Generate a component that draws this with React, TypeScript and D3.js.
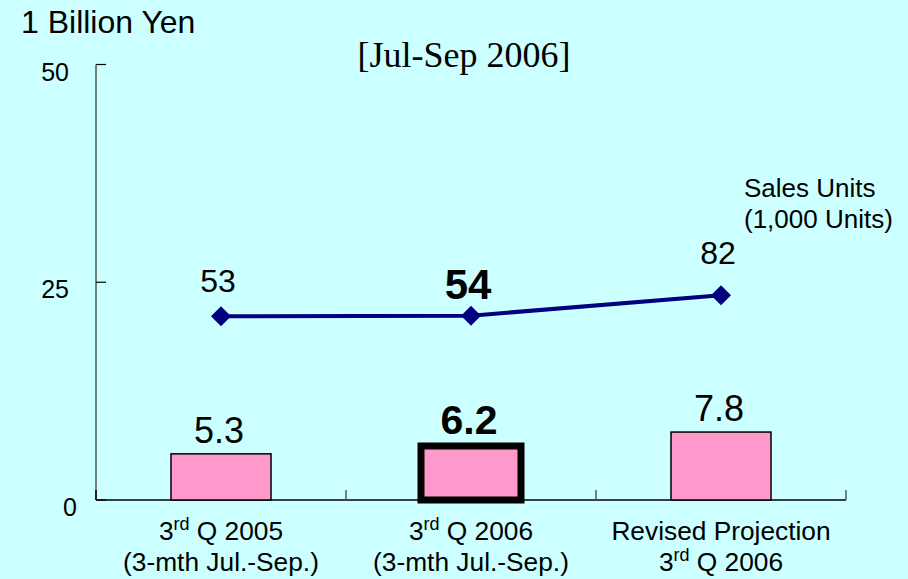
import React from "react";
import * as d3 from "d3";

// ---- Data ----
const categories = ["3rd Q 2005", "3rd Q 2006", "Revised Projection"];
const categorySub = ["(3-mth Jul.-Sep.)", "(3-mth Jul.-Sep.)", "3rd Q 2006"];
const salesAmount = [5.3, 6.2, 7.8]; // 1 Billion Yen
const salesUnits = [53, 54, 82]; // 1,000 Units
const highlightIndex = 1;
const yTicks = [0, 25, 50];
const title = "[Jul-Sep 2006]";
const yAxisTitle = "1 Billion Yen";
const lineLegend = ["Sales Units", "(1,000 Units)"];

const W = 908;
const H = 579;
const FONT = "'Liberation Sans', Arial, sans-serif";

function renderWithSup(text: string, supSize: number) {
  const m = text.match(/^(\d)(st|nd|rd|th)(.*)$/);
  if (!m) return text;
  return (
    <>
      {m[1]}
      <tspan fontSize={supSize} dy={-10}>{m[2]}</tspan>
      <tspan dy={10}>{m[3]}</tspan>
    </>
  );
}

export default function App() {
  const left = 96;
  const right = 846;
  const bottom = 500;
  const top = 64.5;

  const x = d3.scaleBand<string>().domain(categories).range([left, right]).paddingInner(0).paddingOuter(0);
  const y = d3.scaleLinear().domain([0, 50]).range([bottom, top]);
  const y2 = d3.scaleLinear().domain([-200, 400]).range([bottom, top]);

  const bw = x.bandwidth();
  const barW = bw * 0.4;
  const cx = (i: number) => (x(categories[i]) as number) + bw / 2;

  const linePts: [number, number][] = salesUnits.map((v, i) => [cx(i), y2(v)]);
  const lineGen = d3.line();
  const unitLabelDy = [-24, -17, -31];

  const diamond = d3.symbol().type(d3.symbolSquare).size(200)();

  const boundaries = d3.range(categories.length + 1).map((i) => left + i * bw);

  return (
    <svg
      width={W}
      height={H}
      style={{ position: "absolute", left: 0, top: 0, display: "block" }}
      fontFamily={FONT}
    >
      <rect x={0} y={0} width={W} height={H} fill="#CCFFFF" />

      {/* titles */}
      <text x={21} y={33} fontSize={32} fill="#000">{yAxisTitle}</text>
      <text x={464} y={67} fontSize={36} fontFamily="'Liberation Serif', 'Times New Roman', serif" textAnchor="middle" fill="#000">
        {title}
      </text>

      {/* y axis */}
      <line x1={left} y1={top} x2={left} y2={bottom} stroke="#555" strokeWidth={1.5} />
      {yTicks.map((t) => (
        <g key={t}>
          <line x1={left} x2={left + 10} y1={y(t)} y2={y(t)} stroke="#000" strokeWidth={1.2} />
          <text x={t === 0 ? 77 : 69} y={y(t) + 16} fontSize={25} textAnchor="end" fill="#000">
            {t}
          </text>
        </g>
      ))}

      {/* x axis */}
      <line x1={left} y1={bottom} x2={right} y2={bottom} stroke="#000" strokeWidth={1.5} />
      {boundaries.map((bx, i) => (
        <line key={i} x1={bx} x2={bx} y1={bottom} y2={bottom - 10} stroke={i === 0 ? "#000" : "#556"} strokeWidth={1.5} />
      ))}

      {/* bars */}
      {salesAmount.map((v, i) => {
        const hl = i === highlightIndex;
        return (
          <g key={i}>
            <rect
              x={cx(i) - barW / 2}
              y={y(v)}
              width={barW}
              height={bottom - y(v)}
              fill="#FF99CC"
              stroke="#000"
              strokeWidth={hl ? 7 : 1.5}
            />
            <text
              x={cx(i) - 2}
              y={y(v) - (hl ? 12 : 11)}
              fontSize={hl ? 41 : 36}
              fontWeight={hl ? "bold" : "normal"}
              textAnchor="middle"
              fill="#000"
            >
              {v.toFixed(1)}
            </text>
          </g>
        );
      })}

      {/* line */}
      <path d={lineGen(linePts) || ""} fill="none" stroke="#000080" strokeWidth={4} />
      {linePts.map(([px, py], i) => {
        const hl = i === highlightIndex;
        return (
          <g key={i}>
            <path d={diamond || ""} transform={`translate(${px},${py}) rotate(45)`} fill="#000080" />
            <text
              x={px - 3}
              y={py + unitLabelDy[i]}
              fontSize={hl ? 42 : 32}
              fontWeight={hl ? "bold" : "normal"}
              textAnchor="middle"
              fill="#000"
            >
              {salesUnits[i]}
            </text>
          </g>
        );
      })}

      {/* line legend */}
      <text x={744} y={197} fontSize={26} fill="#000">
        <tspan x={744}>{lineLegend[0]}</tspan>
        <tspan x={744} y={228}>{lineLegend[1]}</tspan>
      </text>

      {/* category labels */}
      {categories.map((c, i) => (
        <g key={c}>
          <text x={cx(i)} y={540} fontSize={26.3} textAnchor="middle" fill="#000">
            {renderWithSup(c, 18)}
          </text>
          <text x={cx(i)} y={571} fontSize={26.3} textAnchor="middle" fill="#000">
            {renderWithSup(categorySub[i], 18)}
          </text>
        </g>
      ))}
    </svg>
  );
}
